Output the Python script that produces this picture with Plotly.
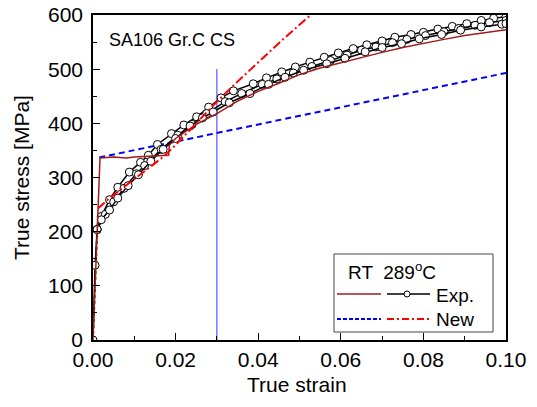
import plotly.graph_objects as go

# RT experiment (dark red)
rt_strain = [0, 0.0016, 0.0017, 0.005, 0.008, 0.010, 0.013, 0.016, 0.0183, 0.0185, 0.02, 0.025,
             0.03, 0.035, 0.04, 0.045, 0.05, 0.055, 0.06, 0.065, 0.07, 0.075, 0.08, 0.085, 0.09, 0.095, 0.1]
rt_stress = [0, 330, 336, 338, 336, 338, 339, 340, 341, 360, 372, 398,
             418, 441, 459, 474, 490, 502, 512, 522, 531, 540, 548, 555, 562, 568, 573]

# 289C experiments (black, open circles)
exp1_strain = [0, 0.0005, 0.001, 0.002, 0.004, 0.006, 0.0088, 0.0115, 0.0134, 0.0156, 0.019, 0.022,
               0.0251, 0.028, 0.031, 0.034, 0.0388, 0.042, 0.0457, 0.049, 0.0525, 0.056, 0.0594, 0.063,
               0.0663, 0.070, 0.0731, 0.077, 0.080, 0.0835, 0.087, 0.0905, 0.094, 0.097, 0.1]
exp1_stress = [0, 138, 204, 228, 259, 282, 310, 328, 341, 361, 381, 397,
               412, 430, 447, 460, 473, 484, 495, 504, 513, 522, 530, 538,
               545, 552, 559, 564, 568, 574, 579, 584, 590, 594, 597]

exp2_strain = [0.001, 0.003, 0.005, 0.0075, 0.0105, 0.0125, 0.0165, 0.0205, 0.024, 0.0275, 0.032,
               0.036, 0.041, 0.0445, 0.0485, 0.053, 0.0575, 0.0615, 0.065, 0.0685, 0.0725, 0.076,
               0.0805, 0.085, 0.0885, 0.0925, 0.096, 0.1]
exp2_stress = [204, 232, 255, 280, 307, 322, 352, 378, 398, 418, 440,
               455, 472, 482, 493, 505, 516, 526, 535, 541, 549, 555,
               562, 569, 575, 581, 586, 590]

exp3_strain = [0.001, 0.002, 0.004, 0.006, 0.0085, 0.011, 0.014, 0.017, 0.020, 0.0235, 0.0265, 0.0291,
               0.033, 0.038, 0.0425, 0.0465, 0.051, 0.0566, 0.061, 0.0659, 0.070, 0.0747, 0.079,
               0.0844, 0.089, 0.094, 0.099, 0.1]
exp3_stress = [204, 222, 240, 262, 285, 305, 330, 352, 372, 395, 410, 421,
               438, 455, 472, 485, 498, 510, 520, 532, 540, 547, 556,
               564, 572, 578, 583, 584]

# elastic part (green)
el_strain = [0, 0.0011]
el_stress = [0, 215]

# New model, RT (red dash-dot) and 289C (blue dash)
new_rt_strain = [0.0012, 0.004, 0.0064, 0.01, 0.014, 0.017, 0.02, 0.025, 0.03, 0.035, 0.04, 0.045, 0.05, 0.0527]
new_rt_stress = [243, 262, 276, 297, 320, 338, 360, 400, 440, 477, 513, 548, 582, 600]
new_289_strain = [0.0015, 0.1]
new_289_stress = [337, 493]

# reference strain line
ref_strain = [0.03, 0.03]
ref_stress = [0, 500]

DARKRED = '#A31A1A'
FONT = 'Liberation Sans, Arial, sans-serif'

fig = go.Figure()
fig.add_trace(go.Scatter(x=ref_strain, y=ref_stress, mode='lines',
                         line=dict(color='#3333FF', width=1)))
fig.add_trace(go.Scatter(x=el_strain, y=el_stress, mode='lines',
                         line=dict(color='#008000', width=2, dash='dot')))
fig.add_trace(go.Scatter(x=new_289_strain, y=new_289_stress, mode='lines',
                         line=dict(color='#0000FF', width=2, dash='6px,4px')))
for xs, ys in [(exp1_strain, exp1_stress), (exp2_strain, exp2_stress), (exp3_strain, exp3_stress)]:
    fig.add_trace(go.Scatter(x=xs, y=ys, mode='lines+markers',
                             line=dict(color='black', width=1.5),
                             marker=dict(symbol='circle', size=8, color='white',
                                         line=dict(color='black', width=1))))
fig.add_trace(go.Scatter(x=rt_strain, y=rt_stress, mode='lines',
                         line=dict(color=DARKRED, width=1.5)))
fig.add_trace(go.Scatter(x=new_rt_strain, y=new_rt_stress, mode='lines',
                         line=dict(color='#FF0000', width=2, dash='9px,3px,2px,3px')))

# page has an 8px body margin, so the figure is drawn 8px in from the corner
OFF = 8
W, H = 537 - 2 * OFF, 407 - 2 * OFF
# plot area in page pixels
PL, PR, PT, PB = 93, 506, 15, 340
def px(xp):
    return (xp - PL) / (PR - PL)
def py(yp):
    return (PB - yp) / (PB - PT)

# hand-built legend box, like the original
shapes = [dict(type='rect', xref='paper', yref='paper', x0=px(334), x1=px(493), y0=py(332), y1=py(254),
               line=dict(color='#444', width=1), fillcolor='white', layer='above')]
shapes += [
    dict(type='line', xref='paper', yref='paper', x0=px(337), x1=px(381), y0=py(294), y1=py(294),
         line=dict(color=DARKRED, width=1.5), layer='above'),
    dict(type='line', xref='paper', yref='paper', x0=px(387), x1=px(430), y0=py(294), y1=py(294),
         line=dict(color='black', width=1.5), layer='above'),
    dict(type='circle', xref='paper', yref='paper', x0=px(404), x1=px(410), y0=py(297), y1=py(291),
         line=dict(color='black', width=1), fillcolor='white', layer='above'),
    dict(type='line', xref='paper', yref='paper', x0=px(337), x1=px(381), y0=py(319), y1=py(319),
         line=dict(color='#0000FF', width=2, dash='4px,2px'), layer='above'),
    dict(type='line', xref='paper', yref='paper', x0=px(387), x1=px(430), y0=py(319), y1=py(319),
         line=dict(color='#FF0000', width=2, dash='7px,3px,2px,3px'), layer='above'),
]

def label(text, x, y, size, anchor='left', angle=0):
    return dict(text=text, xref='paper', yref='paper', x=px(x), y=py(y), xanchor=anchor,
                yanchor='middle', showarrow=False, textangle=angle,
                font=dict(size=size, color='black', family=FONT))

annotations = [
    label('SA106 Gr.C CS', 107, 40, 18),
    label('RT  289<sup>o</sup>C', 346, 271, 19),
    label('Exp.', 434, 295, 19),
    label('New', 434, 319, 19),
    label('True strain', 297, 384, 21, anchor='center'),
    label('True stress [MPa]', 22, 178, 21, anchor='center', angle=-90),
]

fig.update_layout(
    template='none',
    width=W, height=H,
    margin=dict(l=PL - OFF, r=W - (PR - OFF), t=PT - OFF, b=H - (PB - OFF)),
    plot_bgcolor='white', paper_bgcolor='white',
    showlegend=False,
    font=dict(family=FONT, size=20, color='black'),
    shapes=shapes, annotations=annotations,
    xaxis=dict(range=[0, 0.1], dtick=0.02, tickformat='.2f', ticks='inside', ticklen=7,
               tickcolor='black', showline=True, linecolor='black', linewidth=1.5, mirror=True,
               showgrid=False, zeroline=False, automargin=False, tickfont=dict(size=21),
               ticklabeloverflow='allow',
               minor=dict(ticks='inside', ticklen=4, dtick=0.01, tickcolor='black', showgrid=False)),
    yaxis=dict(range=[0, 600], dtick=100, ticks='inside', ticklen=7,
               tickcolor='black', showline=True, linecolor='black', linewidth=1.5, mirror=True,
               showgrid=False, zeroline=False, automargin=False, tickfont=dict(size=21),
               ticklabelstandoff=4, ticklabeloverflow='allow',
               minor=dict(ticks='inside', ticklen=4, dtick=50, tickcolor='black', showgrid=False)),
)

fig.write_html("out.html")
